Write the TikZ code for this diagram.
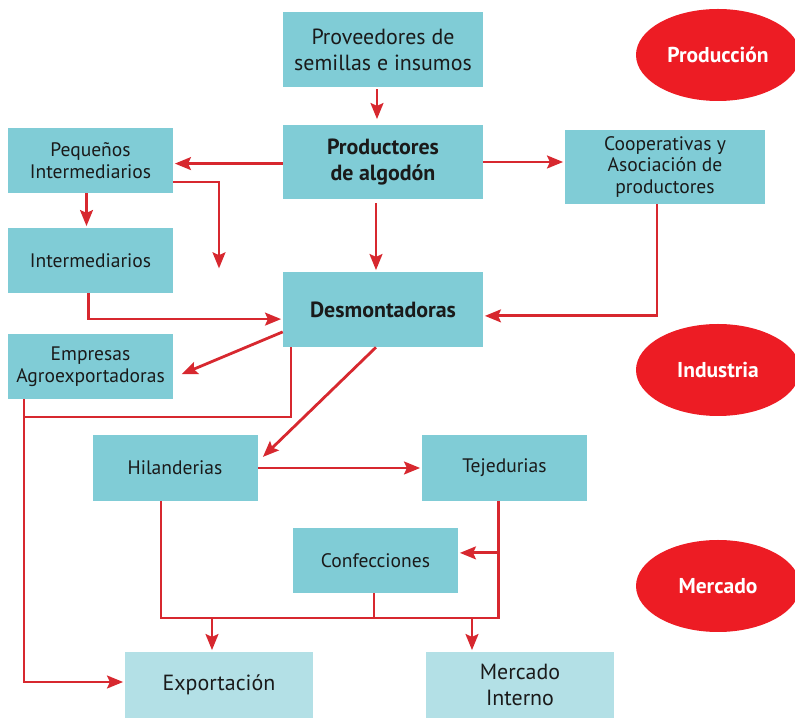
\documentclass[tikz,border=0pt]{standalone}
\usepackage{fontspec}
\setmainfont{PT Sans}
\usetikzlibrary{shapes.geometric,arrows.meta}

\definecolor{celeste}{HTML}{80CCD6}
\definecolor{celesteclaro}{HTML}{B3E0E6}
\definecolor{rojolinea}{HTML}{D7282F}
\definecolor{rojoelipse}{HTML}{ED1C24}
\definecolor{textocaja}{HTML}{1A1A1A}

\newcommand{\letragrande}{\fontsize{15.6pt}{18.5pt}\selectfont}
\newcommand{\letrachica}{\fontsize{13.9pt}{15.6pt}\selectfont}
\newcommand{\letraetapa}{\fontsize{15.3pt}{18pt}\selectfont}

\tikzset{
  caja/.style={fill=celeste, text=textocaja, align=center, inner sep=0pt},
  cajaancha/.style={caja, minimum width=5.0cm, minimum height=1.875cm, font=\letragrande},
  cajaangosta/.style={caja, minimum width=4.125cm, minimum height=1.625cm, font=\letrachica},
  cajafinal/.style={caja, fill=celesteclaro, minimum width=4.7cm, minimum height=1.65cm, font=\letragrande},
  etapa/.style={ellipse, fill=rojoelipse, text=white, inner sep=0pt, minimum width=4.1cm, minimum height=2.3cm, font=\letraetapa\bfseries},
  linea/.style={draw=rojolinea, line width=0.07cm},
  flecha/.style={linea, -{Stealth[length=0.4cm,width=0.32cm,inset=0.07cm]}, shorten >=0.04cm}
}

\begin{document}
\begin{tikzpicture}
                    \useasboundingbox (0,0) rectangle (19.875000,17.950000);

                    % Marking the stages by ellipses
                    \node [etapa] (produccion) at (17.950000,16.575000) {Producción};%
                    \node [etapa] (industria) at (17.950000,8.700000) {Industria};%
                    \node [etapa] (mercado) at (17.950000,3.300000) {Mercado};%

                    % Marking the boxes of the chain
                    \node [cajaancha] (prov) at (9.575000,16.712500) {Proveedores de\\semillas e insumos};%
                    \node [cajaancha, minimum height=1.85cm, font=\letragrande\bfseries] (prod) at (9.575000,13.900000) {Productores\\de algodón};%
                    \node [cajaangosta] (peq) at (2.262500,13.937500) {Pequeños\\Intermediarios};%
                    \node [cajaangosta] (inter) at (2.262500,11.437500) {Intermediarios};%
                    \node [cajaancha, minimum height=1.85cm, font=\letrachica] (coop) at (16.625000,13.775000) {Cooperativas y\\Asociación de\\productores};%
                    \node [cajaancha, font=\letragrande\bfseries] (desm) at (9.575000,10.212500) {Desmontadoras};%
                    \node [cajaangosta] (emp) at (2.262500,8.787500) {Empresas\\Agroexportadoras};%
                    \node [cajaangosta, minimum height=1.65cm] (hil) at (4.375000,6.250000) {Hilanderias};%
                    \node [cajaangosta, minimum height=1.65cm] (tej) at (12.612500,6.250000) {Tejedurias};%
                    \node [cajaangosta] (conf) at (9.387500,3.937500) {Confecciones};%
                    \node [cajafinal] (exp) at (5.475000,0.825000) {Exportación};%
                    \node [cajafinal] (merc) at (13.000000,0.825000) {Mercado\\Interno};%

                    % Free ends and junctions
                    \coordinate (libre) at (5.475000,11.200000);%
                    \coordinate (junta) at (0.600000,7.525000);%
                    \coordinate (bus) at (0.000000,2.500000);%
                    \coordinate (tejbaja) at ([xshift=-0.16cm]tej.south);%
                    \coordinate (hilbaja) at ([xshift=-0.35cm]hil.south);%

                    % Drawing the production arrows
                    \draw [flecha] ([xshift=-0.15cm,yshift=-0.05cm]prov.south) -- ([xshift=-0.15cm,yshift=0.1cm]prod.north);%
                    \draw [flecha] ([yshift=-0.04cm]prod.west) -- ([yshift=-0.04cm]prod.west -| peq.east);%
                    \draw [flecha] (prod.east) -- (prod.east -| coop.west);%
                    \draw [flecha] ([xshift=-0.175cm,yshift=-0.1cm]prod.south) -- ([xshift=-0.175cm]desm.north);%
                    \draw [flecha] ([xshift=-0.1cm]peq.south) -- ([xshift=-0.1cm]inter.north);%
                    \draw [flecha] ([yshift=-0.54cm]peq.east) -| (libre);%

                    % Drawing the arrows into Desmontadoras
                    \draw [flecha] ([xshift=-0.06cm]inter.south) |- ([yshift=-0.24cm]desm.west);%
                    \draw [flecha] ([xshift=-0.2cm]coop.south) |- ([yshift=-0.16cm]desm.east);%

                    % Drawing the arrows out of Desmontadoras
                    \draw [flecha] ([yshift=-0.56cm]desm.west) -- ([xshift=0.17cm,yshift=-0.21cm]emp.east);%
                    \draw [linea] ([xshift=-2.3cm]desm.south) |- (junta);%
                    \draw [flecha] ([xshift=-1.6625cm]emp.south) |- ([yshift=0.075cm]exp.west);%
                    \draw [flecha] ([xshift=-0.175cm]desm.south) -- ([xshift=0.1cm,yshift=0.25cm]hil.east);%

                    % Drawing the industry and market arrows
                    \draw [flecha] (hil.east) -- (hil.east -| tej.west);%
                    \draw [linea] (tejbaja) |- (hilbaja |- bus) -- (hilbaja);%
                    \draw [flecha] ([yshift=0.19cm]conf.east -| tejbaja) -- ([yshift=0.19cm]conf.east);%
                    \draw [linea] ([xshift=-0.04cm]conf.south) -- ([xshift=-0.04cm]conf.south |- bus);%
                    \draw [flecha] ([xshift=-0.175cm]exp.north |- bus) -- ([xshift=-0.175cm]exp.north);%
                    \draw [flecha] ([xshift=-1.2cm]merc.north |- bus) -- ([xshift=-1.2cm]merc.north);%
\end{tikzpicture}
\end{document}
